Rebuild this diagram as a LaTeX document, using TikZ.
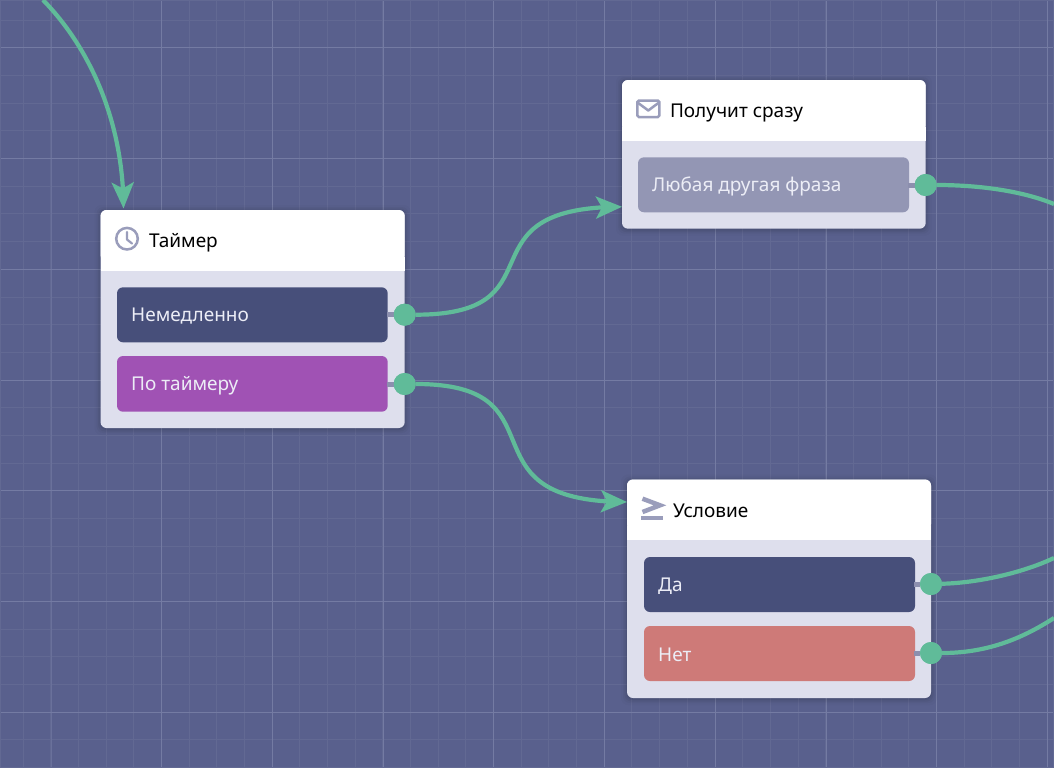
\documentclass[tikz,border=0pt]{standalone}
\usepackage{fontspec}
\setmainfont{Noto Sans}
\usetikzlibrary{arrows.meta,bending}
\definecolor{bgc}{HTML}{59608D}
\definecolor{gridminor}{HTML}{626993}
\definecolor{gridmajor}{HTML}{747BA3}
\definecolor{gridmid}{HTML}{6A719B}
\definecolor{cardbody}{HTML}{DEDFED}
\definecolor{navybtn}{HTML}{474F7A}
\definecolor{purplebtn}{HTML}{A052B4}
\definecolor{greybtn}{HTML}{9396B4}
\definecolor{redbtn}{HTML}{CE7A78}
\definecolor{linkc}{HTML}{60BB99}
\definecolor{iconc}{HTML}{9A9DBB}
\definecolor{stubc}{HTML}{8C8FAE}
\definecolor{btntext}{HTML}{ECEDF6}
\tikzset{
  x=1pt,y=-1pt,
  cardhead/.style={anchor=north west,inner sep=0pt,outer sep=0pt,minimum height=61pt,yshift=-1.5pt,text=black,font=\fontsize{19}{21}\selectfont,align=left},
  btnlabel/.style={anchor=west,inner sep=0pt,yshift=-1.5pt,text=btntext,font=\fontsize{19}{21}\selectfont},
  port/.style={circle,fill=linkc,inner sep=0pt,outer sep=0pt,minimum size=22pt},
  link/.style={draw=linkc,line width=4.2pt},
  linkarrow/.style={link,-{Stealth[length=26pt,width=22pt,inset=6pt]}},
  stub/.style={draw=stubc,line width=5pt},
  icon/.style={draw=iconc,line width=2.5pt},
}
% #1 left, #2 top, #3 right, #4 bottom, #5 header bottom
\newcommand{\cardbg}[5]{%
  \foreach \s/\o in {6/.02,4/.03,2.5/.04,1/.05}{
    \fill[black,opacity=\o,rounded corners=7pt] (#1-\s,#2-\s+1) rectangle (#3+\s,#4+\s+1);
  }
  \fill[cardbody,rounded corners=6pt] (#1,#2) rectangle (#3,#4);
  \fill[white,rounded corners=6pt] (#1,#2) rectangle (#3,#5-10);
  \fill[white] (#1,#5-14) rectangle (#3,#5);
}
\newcommand{\btn}[6]{%
  \fill[#5,rounded corners=6pt] (#1,#2) rectangle (#3,#4);
  \node[btnlabel] at (#1+14,{(#2+#4)/2}) {#6};
}
\begin{document}
\begin{tikzpicture}
\useasboundingbox (0,0) rectangle (1054,768);
\fill[bgc] (0,0) rectangle (1054,768);
% grid
\foreach \i in {0,...,38}{
  \draw[gridminor,line width=.9pt] ({-4.7+27.68*\i},0) -- ({-4.7+27.68*\i},768);
}
\foreach \i in {0,...,27}{
  \draw[gridminor,line width=.9pt] (0,{-7.5+27.68*\i}) -- (1054,{-7.5+27.68*\i});
}
\draw[gridmid,line width=1pt] (51,0) -- (51,768);
\foreach \i in {0,...,8}{
  \draw[gridmajor,line width=1pt] ({161.7+110.72*\i},0) -- ({161.7+110.72*\i},768);
}
\foreach \i in {0,...,6}{
  \draw[gridmajor,line width=1pt] (0,{48+110.72*\i}) -- (1054,{48+110.72*\i});
}
\draw[gridminor,line width=1pt] (.8,.8) rectangle (1053.2,767);
% cards
\cardbg{100.5}{210}{404.7}{428}{271}
\cardbg{622}{80}{925.7}{228.7}{141}
\cardbg{627}{479.5}{931}{698}{540}
% headers
\node[cardhead] (timerhead) at (149,210.5) {Таймер};
\node[cardhead] (recvhead) at (670,81) {Получит сразу};
\node[cardhead] (condhead) at (673,479) {Условие};
% icons
\draw[icon] (127,238.7) circle (10.8);
\draw[icon,line width=2.2pt,line cap=round,line join=round] (127,232) -- (127,239.5) -- (132,243.5);
\draw[icon,rounded corners=1.5pt] (637.3,100.6) rectangle (659.4,117);
\draw[icon,line join=round] (637.5,102.5) -- (648.3,110.5) -- (659,102.5);
\draw[iconc,line width=4.5pt] (642.5,498.7) -- (660,505.3) -- (642.5,512);
\fill[iconc] (641,515.7) rectangle (662.7,520);
% stubs
\coordinate (s1) at (387,314.7);
\coordinate (s2) at (387,384);
\coordinate (s3) at (908,185);
\coordinate (s4) at (914,584);
\coordinate (s5) at (914,653);
% buttons
\btn{117}{287.3}{387.7}{342.3}{navybtn}{Немедленно}
\btn{117}{356}{387.7}{411.7}{purplebtn}{По таймеру}
\btn{638}{157.3}{909}{212.3}{greybtn}{Любая другая фраза}
\btn{644}{557}{915}{612}{navybtn}{Да}
\btn{644}{626}{915}{681}{redbtn}{Нет}
% ports
\node[port] (p1) at (404.7,314.7) {};
\node[port] (p2) at (404.7,384) {};
\node[port] (p3) at (925.7,185) {};
\node[port] (p4) at (931,584) {};
\node[port] (p5) at (931,653) {};
\draw[stub] (s1) -- (p1);
\draw[stub] (s2) -- (p2);
\draw[stub] (s3) -- (p3);
\draw[stub] (s4) -- (p4);
\draw[stub] (s5) -- (p5);
% free ends and entries
\coordinate (topstart) at (43,0);
\coordinate (timerin) at (123.5,208.5);
\coordinate (recvin) at (622,206.8);
\coordinate (condin) at (627,502);
\coordinate (r3) at (1054,204);
\coordinate (r4) at (1054,558);
\coordinate (r5) at (1054,618);
% links
\draw[linkarrow] (topstart) .. controls (92,50) and (123.5,125) .. (timerin);
\draw[linkarrow] (p1) .. controls (565,314.7) and (455,206.8) .. (recvin);
\draw[linkarrow] (p2) .. controls (568,384) and (455,502) .. (condin);
\draw[link] (p3) .. controls (975,185) and (1020,190) .. (r3);
\draw[link] (p4) .. controls (975,583) and (1020,574) .. (r4);
\draw[link] (p5) .. controls (985,653) and (1020,640) .. (r5);
\node[port] at (p1) {};
\node[port] at (p2) {};
\node[port] at (p3) {};
\node[port] at (p4) {};
\node[port] at (p5) {};
\end{tikzpicture}
\end{document}
